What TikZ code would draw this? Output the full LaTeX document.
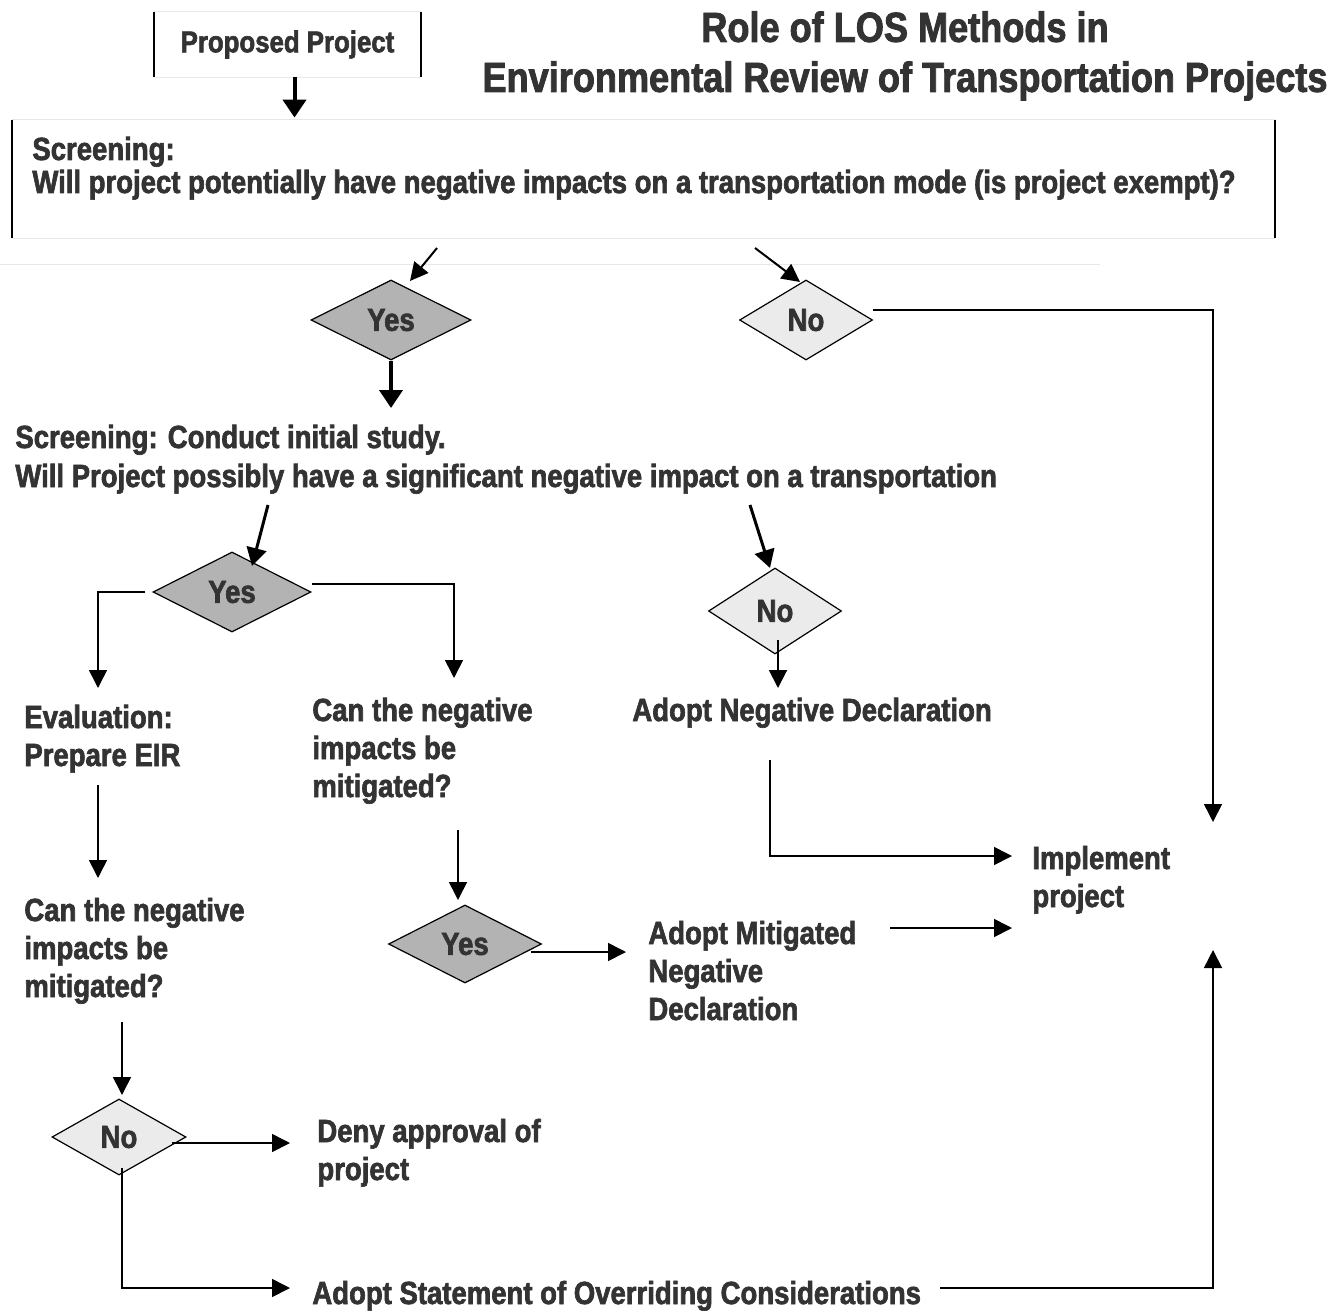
\documentclass[tikz,border=0pt]{standalone}
\usepackage{fontspec}
\setmainfont{Liberation Sans Bold}[FakeStretch=0.86, FakeBold=2]
\usetikzlibrary{shapes.geometric,arrows.meta}
\definecolor{txt}{HTML}{333333}
\definecolor{dkfill}{HTML}{B3B3B3}
\definecolor{ltfill}{HTML}{EBEBEB}
\definecolor{faint}{HTML}{E8E8E8}
\begin{document}
\begin{tikzpicture}[x=0.5pt,y=-0.5pt,
  every node/.style={font=\fontsize{16}{19}\selectfont, text=txt},
  lbl/.style={anchor=base west, align=left, inner sep=0pt},
  dia/.style={diamond, draw=black, line width=0.6pt, inner sep=0pt},
  dyes/.style={dia, fill=dkfill},
  dno/.style={dia, fill=ltfill},
  side/.style={line width=1pt, draw=black},
  faintline/.style={line width=0.5pt, draw=faint},
  thickarr/.style={line width=2pt, draw=black, -{Triangle[length=9pt,width=11.5pt]}},
  midarr/.style={line width=1.5pt, draw=black, -{Triangle[length=9pt,width=10pt]}},
  thinarr/.style={line width=0.8pt, draw=black, -{Triangle[length=9pt,width=9pt]}},
  thinline/.style={line width=0.8pt, draw=black}
]
\useasboundingbox (0,0) rectangle (1342,1310);

% title
\node[font=\fontsize{21}{25}\selectfont, align=center] (title) at (905,56)
  {Role of LOS Methods in\\Environmental Review of Transportation Projects};

% proposed project box
\node[minimum width=133.5pt, minimum height=32.5pt, inner sep=0pt] (pp) at (287.5,44.5) {\fontsize{15}{18}\selectfont Proposed Project};
\draw[faintline] (pp.north west) -- (pp.north east) (pp.south west) -- (pp.south east);
\draw[side] (pp.north west) -- (pp.south west);
\draw[side] (pp.north east) -- (pp.south east);

% screening box
\node[minimum width=631.5pt, minimum height=59pt, inner sep=0pt] (scrbox) at (643.5,179) {};
\draw[faintline] (scrbox.north west) -- (scrbox.north east) (scrbox.south west) -- (scrbox.south east);
\draw[side] (scrbox.north west) -- (scrbox.south west);
\draw[side] (scrbox.north east) -- (scrbox.south east);
\node[lbl, font=\fontsize{16}{16.5}\selectfont] (scr1) at (32,193)
  {Screening:\\Will project potentially have negative impacts on a transportation mode (is project exempt)?};

\coordinate (fl1) at (0,265);
\coordinate (fl2) at (1100,265);
\draw[faintline] (fl1) -- (fl2);

% diamonds
\node[dyes, minimum width=80pt, minimum height=40pt] (yes1) at (391,320) {Yes};
\node[dno, minimum width=66.5pt, minimum height=40pt] (no1) at (806,320) {No};
\node[dyes, minimum width=79pt, minimum height=40pt] (yes2) at (232,592) {Yes};
\node[dno, minimum width=66.5pt, minimum height=43pt] (no2) at (775,611) {No};
\node[dyes, minimum width=76.5pt, minimum height=39pt] (yes3) at (465,944) {Yes};
\node[dno, minimum width=67pt, minimum height=38pt] (no3) at (119,1137) {No};

% text nodes (anchor = baseline of last line)
\node[lbl, font=\fontsize{16}{19.5}\selectfont] (scr2) at (15,487)
  {Screening: Conduct initial study.\\Will Project possibly have a significant negative impact on a transportation};
\node[lbl] (eval) at (24,766) {Evaluation:\\Prepare EIR};
\node[lbl] (can1) at (312,797) {Can the negative\\impacts be\\mitigated?};
\node[lbl] (andecl) at (632,721) {Adopt Negative Declaration};
\node[lbl] (can2) at (24,997) {Can the negative\\impacts be\\mitigated?};
\node[lbl] (amnd) at (648,1020) {Adopt Mitigated\\Negative\\Declaration};
\node[lbl] (impl) at (1032,907) {Implement\\project};
\node[lbl] (deny) at (317,1180) {Deny approval of\\project};
\node[lbl] (aso) at (312,1304) {Adopt Statement of Overriding Considerations};

% coordinates for connector ends
\coordinate (d1a) at (437,248);
\coordinate (d1b) at (410,281);
\coordinate (d2a) at (755,248);
\coordinate (d2b) at (800,282);
\coordinate (y1b) at (391,408);
\coordinate (implTop) at (1213,822);
\coordinate (d3a) at (268,505);
\coordinate (d3b) at (252,566);
\coordinate (d4a) at (750,505);
\coordinate (d4b) at (770,568);
\coordinate (evalTop) at (98,688);
\coordinate (can1Top) at (454,678);
\coordinate (no2a) at (778,640);
\coordinate (andTop) at (778,688);
\coordinate (evalBot) at (98,785);
\coordinate (can2Top) at (98,878);
\coordinate (can1Bot) at (458,830);
\coordinate (y3Top) at (458,900);
\coordinate (y3r) at (531,952);
\coordinate (amndL) at (626,952);
\coordinate (andBot) at (770,760);
\coordinate (implA) at (1012,856);
\coordinate (amndR) at (890,928);
\coordinate (implB) at (1012,928);
\coordinate (can2Bot) at (122,1022);
\coordinate (no3Top) at (122,1095);
\coordinate (no3r) at (172,1143);
\coordinate (denyL) at (290,1143);
\coordinate (no3b) at (122,1168);
\coordinate (asoL) at (290,1288);
\coordinate (asoR) at (940,1288);
\coordinate (implBot) at (1213,950);

% connectors
\draw[thickarr] ([xshift=3.5pt]pp.south) -- ([xshift=3.5pt,yshift=1pt]pp.south |- scrbox.north);
\draw[thinarr, line width=1pt] (d1a) -- (d1b);
\draw[thinarr, line width=1pt] (d2a) -- (d2b);
\draw[thinarr] ([yshift=5pt]no1.east) -| (implTop);
\draw[thickarr] (yes1.south) -- (y1b);
\draw[midarr] (d3a) -- (d3b);
\draw[midarr] (d4a) -- (d4b);
\draw[thinarr] ([xshift=-3.5pt]yes2.west) -| (evalTop);
\draw[thinarr] ([yshift=4pt]yes2.east) -| (can1Top);
\draw[thinarr, line width=1pt] (no2a) -- (andTop);
\draw[thinarr] (evalBot) -- (can2Top);
\draw[thinarr] (can1Bot) -- (y3Top);
\draw[thinarr] (y3r) -- (amndL);
\draw[thinarr] (andBot) |- (implA);
\draw[thinarr] (amndR) -- (implB);
\draw[thinarr] (can2Bot) -- (no3Top);
\draw[thinarr] (no3r) -- (denyL);
\draw[thinarr] (no3b) |- (asoL);
\draw[thinarr] (asoR) -| (implBot);
\end{tikzpicture}
\end{document}
